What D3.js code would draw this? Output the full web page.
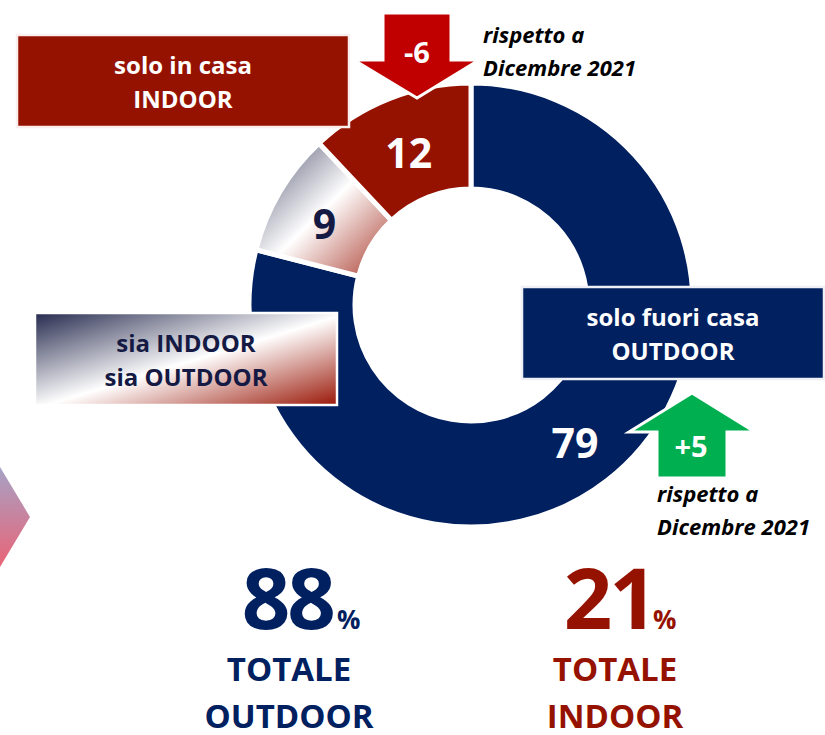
<!DOCTYPE html>
<html>
<head>
<meta charset="utf-8">
<script src="https://cdn.jsdelivr.net/npm/d3@7"></script>
<style>
  body { margin: 0; background: #fff; }
  svg text { font-family: "Open Sans", Lato, sans-serif; font-weight: 700; }
</style>
</head>
<body>
<div id="container"></div>
<script>
// slices go clockwise from 12 o'clock
var categories = ['solo fuori casa|OUTDOOR', 'sia INDOOR|sia OUTDOOR', 'solo in casa|INDOOR'];
var values = [79, 9, 12];
var deltas = ['+5', null, '-6'];
var deltaNote = ['rispetto a', 'Dicembre 2021'];
var totals = [88, 21];
var totalLabels = ['TOTALE|OUTDOOR', 'TOTALE|INDOOR'];

var navy = '#002060',
    darkRed = '#961200',
    arrowRed = '#c00000',
    green = '#00b050',
    ink = '#141a44';

var width = 825, height = 735,
    cx = 471, cy = 305,
    outerR = 222, innerR = 116;

var svg = d3.select('#container')
    .append('svg')
    .attr('width', width)
    .attr('height', height);

var defs = svg.append('defs');

var g1 = defs.append('linearGradient').attr('id', 'mixSlice')
    .attr('x1', 0).attr('y1', 0).attr('x2', 1).attr('y2', 1);
g1.append('stop').attr('offset', '0%').attr('stop-color', '#4c4f6c');
g1.append('stop').attr('offset', '50%').attr('stop-color', '#ffffff');
g1.append('stop').attr('offset', '100%').attr('stop-color', '#a8382a');

var g2 = defs.append('linearGradient').attr('id', 'mixBox')
    .attr('x1', 0).attr('y1', 0).attr('x2', 1).attr('y2', 1);
g2.append('stop').attr('offset', '0%').attr('stop-color', '#262a4e');
g2.append('stop').attr('offset', '52%').attr('stop-color', '#ffffff');
g2.append('stop').attr('offset', '100%').attr('stop-color', '#9a1808');

var g3 = defs.append('linearGradient').attr('id', 'chev')
    .attr('x1', 0).attr('y1', 0).attr('x2', 0).attr('y2', 1);
g3.append('stop').attr('offset', '0%').attr('stop-color', '#a6a2c6');
g3.append('stop').attr('offset', '100%').attr('stop-color', '#ea6476');

// partial chevron at the left edge
svg.append('path')
    .attr('d', 'M0,467 L30,517 L0,567 Z')
    .style('fill', 'url(#chev)');

// donut
var pie = d3.pie().sort(null).startAngle(0).endAngle(2 * Math.PI);
var arc = d3.arc().innerRadius(innerR).outerRadius(outerR);
var fills = [navy, 'url(#mixSlice)', darkRed];

var donut = svg.append('g')
    .attr('transform', 'translate(' + cx + ',' + cy + ')');

var slices = pie(values);

donut.selectAll('path')
    .data(slices)
    .enter()
    .append('path')
    .attr('d', arc)
    .style('fill', function(d, i) { return fills[i]; })
    .style('stroke', '#fff')
    .style('stroke-width', 5)
    .style('stroke-linejoin', 'miter');

// label boxes
function box(x, y, w, h, fill, stroke, lines, color, size) {
    var b = svg.append('g');
    b.append('rect')
        .attr('x', x).attr('y', y)
        .attr('width', w).attr('height', h)
        .style('fill', fill)
        .style('stroke', stroke)
        .style('stroke-width', 2.5);
    b.selectAll('text')
        .data(lines)
        .enter()
        .append('text')
        .attr('x', x + w / 2)
        .attr('y', function(d, i) { return y + h / 2 - 7 + i * 34; })
        .attr('text-anchor', 'middle')
        .style('font-size', size + 'px')
        .style('fill', color)
        .text(function(d) { return d; });
}

box(17, 35, 332, 92, darkRed, '#fbeeee', categories[2].split('|'), '#fff', 24);
box(35, 313, 302, 92, 'url(#mixBox)', '#fff', categories[1].split('|'), ink, 24);
box(522, 287, 302, 92, navy, '#eef0f6', categories[0].split('|'), '#fff', 24);

// change arrows
var down = svg.append('g');
down.append('path')
    .attr('d', 'M383,13 L451,13 L451,60 L479,60 L417,98 L354,60 L383,60 Z')
    .style('fill', arrowRed)
    .style('stroke', '#fff')
    .style('stroke-width', 3);
down.append('text')
    .attr('x', 417).attr('y', 63)
    .attr('text-anchor', 'middle')
    .style('font-size', '29px')
    .style('fill', '#fff')
    .text(deltas[2]);

var up = svg.append('g');
up.append('path')
    .attr('d', 'M692,393 L755,432 L727,432 L727,478 L657,478 L657,432 L629,432 Z')
    .style('fill', green)
    .style('stroke', '#fff')
    .style('stroke-width', 3);
up.append('text')
    .attr('x', 691).attr('y', 457)
    .attr('text-anchor', 'middle')
    .style('font-size', '29px')
    .style('fill', '#fff')
    .text(deltas[0]);

function note(x, y) {
    svg.append('g').selectAll('text')
        .data(deltaNote)
        .enter()
        .append('text')
        .attr('x', x)
        .attr('y', function(d, i) { return y + i * 33; })
        .style('font-size', '22px')
        .style('font-style', 'italic')
        .style('fill', '#000')
        .text(function(d) { return d; });
}
note(483, 43);
note(657, 502);

// slice values
var valueColors = ['#fff', ink, '#fff'];
var valueShift = [[104, 139], [-1, 6], [0, 6]];
donut.selectAll('text.val')
    .data(slices)
    .enter()
    .append('text')
    .attr('class', 'val')
    .attr('x', function(d, i) { return i === 0 ? valueShift[i][0] : arc.centroid(d)[0] + valueShift[i][0]; })
    .attr('y', function(d, i) { return i === 0 ? valueShift[i][1] : arc.centroid(d)[1] + valueShift[i][1]; })
    .attr('dy', '0.35em')
    .attr('text-anchor', 'middle')
    .style('font-size', '41px')
    .style('fill', function(d, i) { return valueColors[i]; })
    .text(function(d) { return d.data; });

// totals
var totalX = [289, 615],
    numShift = [12, 5],
    pctGap = [4, -2],
    totalColors = [navy, darkRed];

totals.forEach(function(v, i) {
    var t = svg.append('g');
    var big = t.append('text')
        .attr('x', totalX[i] + numShift[i]).attr('y', 629)
        .attr('text-anchor', 'middle')
        .style('font-size', '85px')
        .style('letter-spacing', '-3px')
        .style('fill', totalColors[i]);
    big.append('tspan').text(v);
    big.append('tspan').attr('dx', pctGap[i]).style('font-size', '26px').style('letter-spacing', '0px').text('%');
    t.selectAll('text.lbl')
        .data(totalLabels[i].split('|'))
        .enter()
        .append('text')
        .attr('class', 'lbl')
        .attr('x', totalX[i])
        .attr('y', function(d, j) { return 681 + j * 47; })
        .attr('text-anchor', 'middle')
        .style('font-size', '33px')
        .style('fill', totalColors[i])
        .text(function(d) { return d; });
});
</script>
</body>
</html>
